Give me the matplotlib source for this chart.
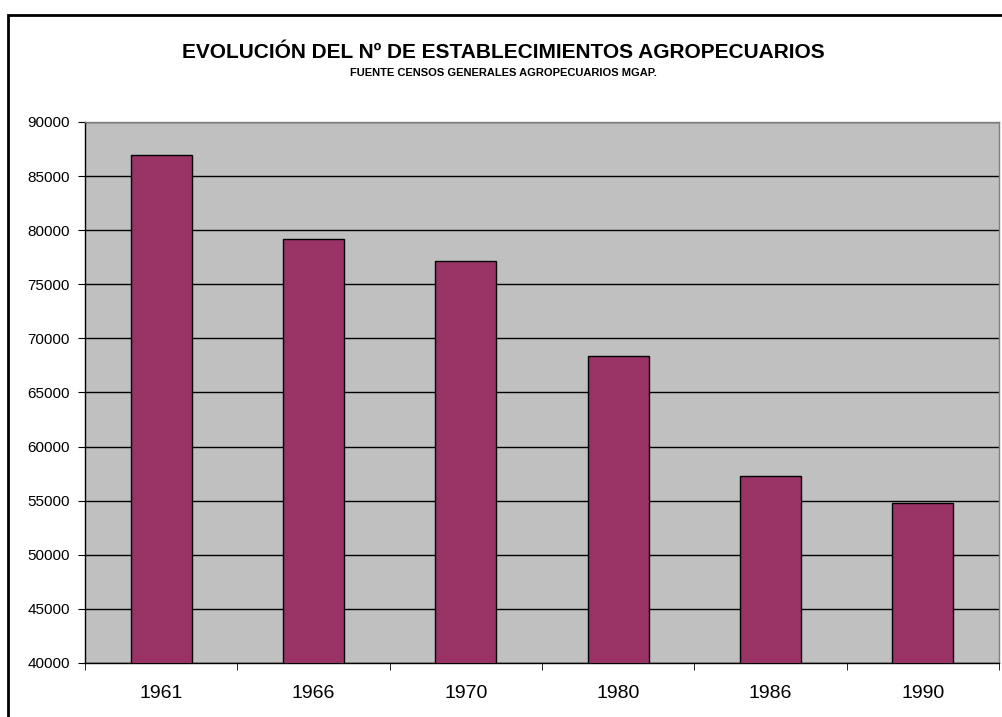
import matplotlib
matplotlib.use("Agg")
import matplotlib.pyplot as plt
from matplotlib.patches import Rectangle

years = ["1961", "1966", "1970", "1980", "1986", "1990"]
establecimientos = [86928, 79193, 77163, 68362, 57300, 54816]
y_ticks = [40000, 45000, 50000, 55000, 60000, 65000, 70000, 75000, 80000, 85000, 90000]

title = "EVOLUCIÓN DEL Nº DE ESTABLECIMIENTOS AGROPECUARIOS"
subtitle = "FUENTE CENSOS GENERALES AGROPECUARIOS MGAP."

plt.rcParams['font.family'] = ['Liberation Sans', 'DejaVu Sans']

W, H = 1003, 717
fig = plt.figure(figsize=(W / 100, H / 100), dpi=100)
fig.patch.set_facecolor('white')

# outer chart border (cut by image edges at right/bottom)
fig.patches.append(Rectangle((8.5 / W, -0.1), 1.1, 1 - 14.7 / H + 0.1,
                             transform=fig.transFigure, fill=False,
                             edgecolor='black', linewidth=2.0))

ax = fig.add_axes([85 / W, 1 - 663 / H, (999 - 85) / W, (663 - 122) / H])
ax.set_facecolor('#c0c0c0')

x = list(range(len(years)))
ax.bar(x, establecimientos, width=0.4, bottom=0, color='#993366',
       edgecolor='black', linewidth=1.0, zorder=3)

ax.set_ylim(40000, 90000)
ax.set_xlim(-0.5, len(years) - 0.5)
ax.set_yticks(y_ticks)
ax.set_yticklabels([str(v) for v in y_ticks], fontsize=11)
ax.yaxis.grid(True, color='black', linewidth=1.0, zorder=1)
ax.set_axisbelow(True)

# category labels centered, tick marks between categories
ax.set_xticks(x)
ax.set_xticklabels(years, fontsize=14)
ax.tick_params(axis='x', which='major', length=0, pad=16)
ax.set_xticks([i - 0.5 for i in range(len(years) + 1)], minor=True)
ax.tick_params(axis='x', which='minor', length=5, direction='out', color='black')
ax.tick_params(axis='y', length=5, direction='out', color='black', pad=6)

for s in ['left', 'bottom']:
    ax.spines[s].set_color('black')
    ax.spines[s].set_linewidth(1.0)
for s in ['top', 'right']:
    ax.spines[s].set_color('#808080')
    ax.spines[s].set_linewidth(1.0)

fig.text(503 / W, 1 - 53 / H, title, ha='center', va='center',
         fontsize=15, fontweight='bold')
fig.text(503 / W, 1 - 73 / H, subtitle, ha='center', va='center',
         fontsize=8, fontweight='bold')

fig.savefig('out.png', dpi=100)
